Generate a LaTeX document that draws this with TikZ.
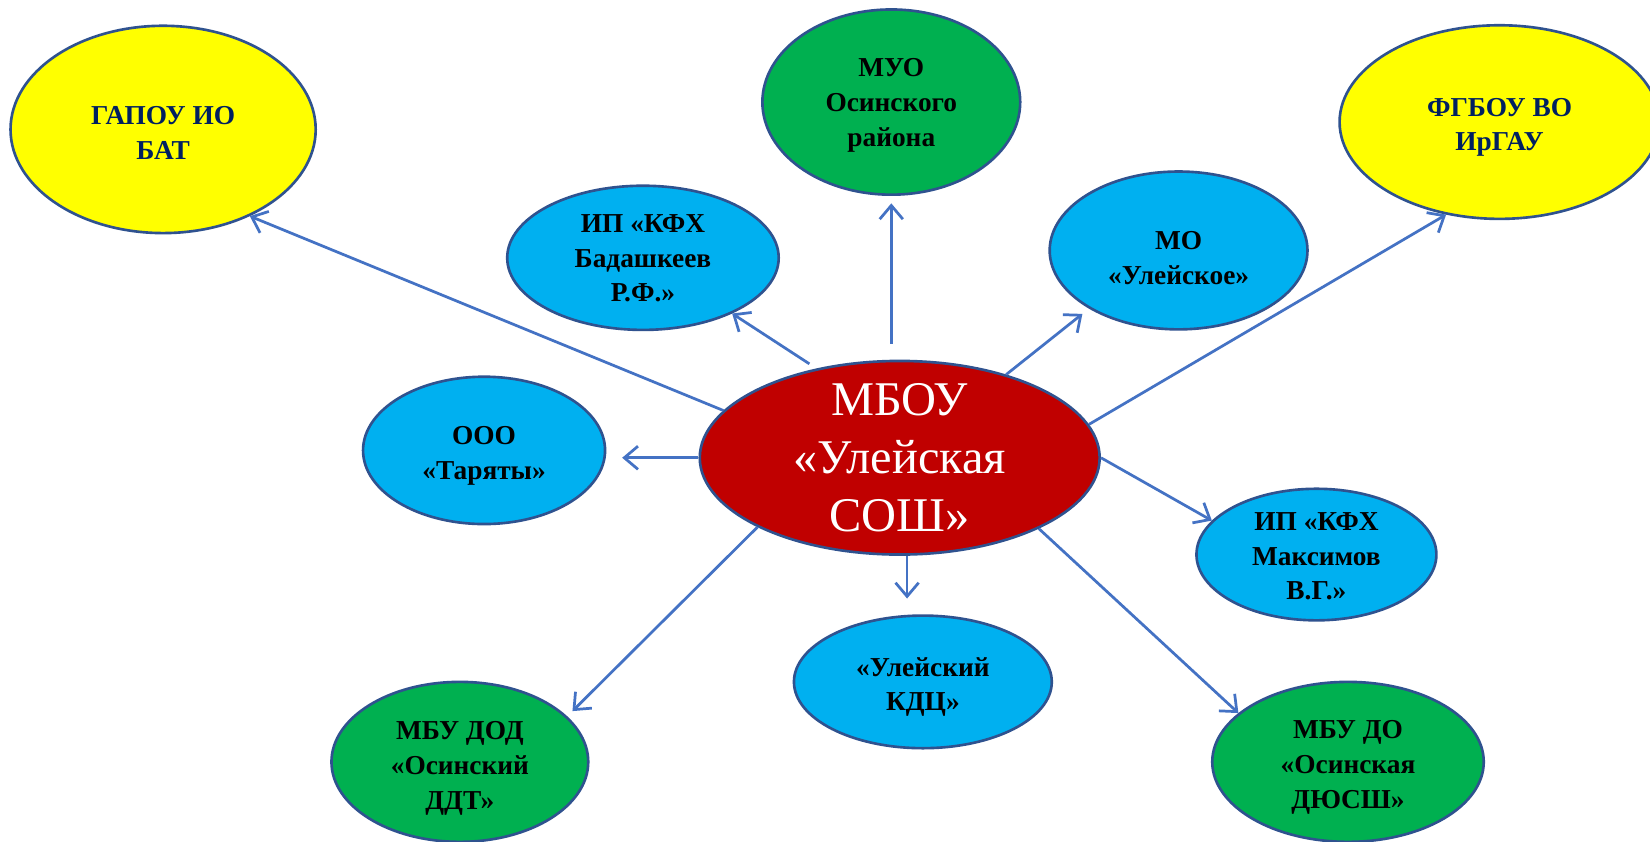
\documentclass[tikz,border=0pt]{standalone}
\usepackage{fontspec}
\setmainfont{Liberation Serif}
\usetikzlibrary{shapes.geometric,arrows.meta}
\definecolor{bordc}{HTML}{2F528F}
\definecolor{arrc}{HTML}{4472C4}
\definecolor{yel}{HTML}{FFFF00}
\definecolor{grn}{HTML}{00B050}
\definecolor{blu}{HTML}{00B0F0}
\definecolor{redc}{HTML}{C00000}
\definecolor{navy}{HTML}{002060}
\newcommand\txtblock[2]{\raisebox{\dimexpr-8.6pt-#1\relax}[0pt][0pt]{\begin{tabular}{@{}c@{}}#2\end{tabular}}}
\tikzset{
  org/.style={ellipse, draw=bordc, line width=2.5pt, inner sep=0pt, align=center,
    font=\bfseries\fontsize{26}{33}\selectfont},
  yelnode/.style={org, fill=yel, text=navy},
  grnnode/.style={org, fill=grn, text=black},
  blunode/.style={org, fill=blu, text=black},
  centre/.style={ellipse, draw=bordc, line width=2.5pt, fill=redc, text=white,
    inner xsep=0pt, inner ysep=-25pt, align=center,
    font=\fontsize{46}{55}\selectfont},
  link/.style={draw=arrc, line width=2.6pt, -{Straight Barb[length=13pt,width=22pt]}}
}
\begin{document}
\begin{tikzpicture}[x=1pt,y=-1pt]
\useasboundingbox (0,0) rectangle (1568,800);
\fill[white] (0,0) rectangle (1568,800);

\node[centre, minimum width=380pt, minimum height=184pt] (c) at (855,435) {МБОУ\\«Улейская\\СОШ»};

\node[yelnode, minimum width=290pt, minimum height=197pt] (g) at (155,123) {\txtblock{3pt}{ГАПОУ ИО\\БАТ}};
\node[grnnode, minimum width=245pt, minimum height=176pt] (m) at (847,97) {\txtblock{0pt}{МУО\\Осинского\\района}};
\node[yelnode, minimum width=304pt, minimum height=184pt] (f) at (1425,116) {\txtblock{2pt}{ФГБОУ ВО\\ИрГАУ}};
\node[blunode, minimum width=258pt, minimum height=137pt] (b) at (611,245) {\txtblock{0pt}{ИП «КФХ\\Бадашкеев\\Р.Ф.»}};
\node[blunode, minimum width=245pt, minimum height=150pt] (u) at (1120,238) {\txtblock{7pt}{МО\\«Улейское»}};
\node[blunode, minimum width=230pt, minimum height=140pt] (t) at (460,428) {\txtblock{2pt}{ООО\\«Таряты»}};
\node[blunode, minimum width=228pt, minimum height=125pt] (k) at (1251,527) {\txtblock{1pt}{ИП «КФХ\\Максимов\\В.Г.»}};
\node[blunode, minimum width=245pt, minimum height=126pt] (d) at (877,648) {\txtblock{2pt}{«Улейский\\КДЦ»}};
\node[grnnode, minimum width=244pt, minimum height=152pt] (e) at (437,724) {\txtblock{3pt}{МБУ ДОД\\«Осинский\\ДДТ»}};
\node[grnnode, minimum width=258pt, minimum height=152pt] (s) at (1281,724) {\txtblock{2pt}{МБУ ДО\\«Осинская\\ДЮСШ»}};

\draw[link] (c.165) -- (g.-45);
\draw[link, shorten <=8pt] (c.133) -- (b.-32);
\draw[link, shorten <=15pt, shorten >=7pt] (c.north -| m.south) -- (m.south);
\draw[link, shorten >=8pt] (c.38) -- (u.213);
\draw[link] (c.10) -- (f.240);
\draw[link, shorten >=15pt] (c.west) -- (c.west -| t.east);
\draw[link] (c.east) -- (k.162);
\draw[link, shorten >=15pt] ([xshift=7pt]c.south) -- ([xshift=7pt]c.south |- d.north);
\draw[link, shorten >=7pt] (c.206) -- (e.23);
\draw[link] (c.-27) -- (s.156);
\end{tikzpicture}
\end{document}
